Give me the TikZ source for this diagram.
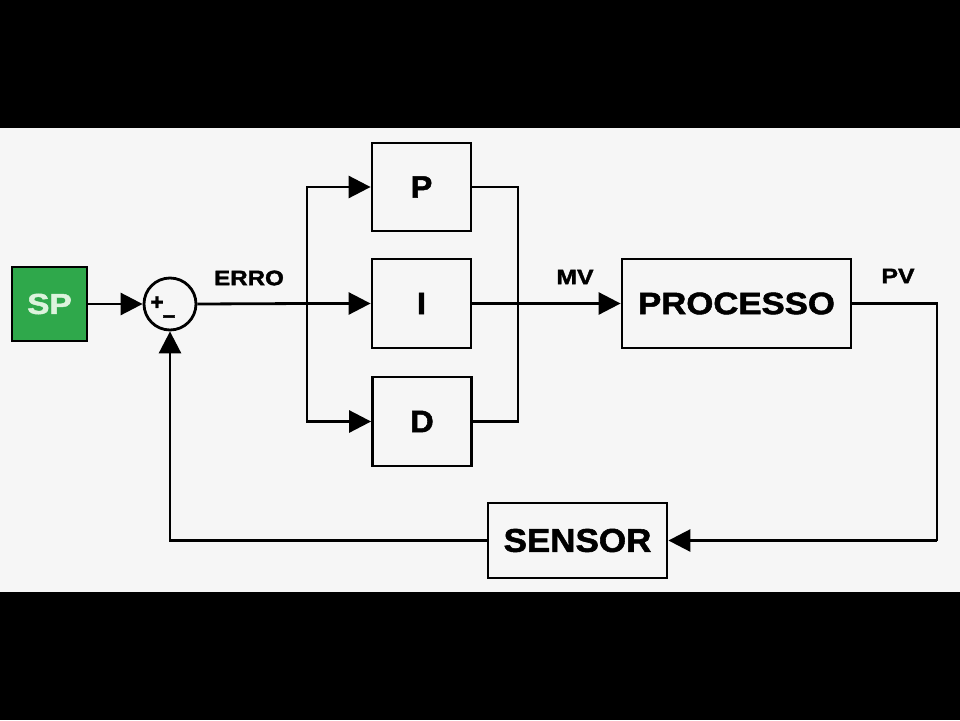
\documentclass[tikz,border=0pt]{standalone}
\usepackage{fontspec}
\usepackage{graphicx}
\setmainfont{Liberation Sans}[BoldFeatures={FakeBold=1.6}]
\usetikzlibrary{arrows.meta}
\definecolor{bg}{HTML}{F6F6F6}
\definecolor{spgreen}{HTML}{2FA84B}
\definecolor{sptext}{HTML}{DDF3DD}
\tikzset{
  blk/.style={draw=black, line width=2.8pt, fill=bg, minimum width=#1, inner sep=0pt},
  wire/.style={line width=2.8pt},
  arr/.style={wire, -{Triangle[length=22pt,width=22pt]}},
  lbl/.style={font=\bfseries\fontsize{21}{21}\selectfont, inner sep=0pt},
  big/.style={font=\bfseries\fontsize{31}{31}\selectfont, inner sep=0pt}
}
\begin{document}
\begin{tikzpicture}[x=1pt,y=-1pt]
\useasboundingbox (0,0) rectangle (960,720);
\fill[black] (0,0) rectangle (960,720);
\fill[bg] (0,128) rectangle (960,592);

% blocks
\node[draw=black, line width=2.8pt, fill=spgreen, minimum width=75pt, minimum height=74pt, inner sep=0pt] (sp) at (49.5,304) {};
\node[big, text=sptext, font=\bfseries\fontsize{29}{29}\selectfont] at (sp.center) {\scalebox{1.15}[1]{SP}};
\node[draw=black, line width=2.8pt, circle, minimum size=52pt, inner sep=0pt, fill=bg] (sum) at (170,304) {};
\node[font=\bfseries\fontsize{23}{23}\selectfont, inner sep=0pt] (plus) at (157,303) {+};
\node[font=\bfseries\fontsize{23}{23}\selectfont, inner sep=0pt] (minus) at (169,319) {–};

\node[blk=99pt, minimum height=88pt] (P) at (421.5,187) {};
\node[big] at (P.center) {\scalebox{1.05}[1]{P}};
\node[blk=99pt, minimum height=89pt] (I) at (421.5,303.5) {};
\node[big] at (I.center) {\scalebox{1.05}[1]{I}};
\node[blk=99pt, minimum height=89pt] (D) at (422,421.5) {};
\node[big] at (D.center) {\scalebox{1.05}[1]{D}};

\node[blk=229pt, minimum height=89pt] (proc) at (736.5,303.5) {};
\node[big] at (proc.center) {\scalebox{1.12}[1]{PROCESSO}};

\node[blk=179pt, minimum height=75pt] (sens) at (577.5,540.5) {};
\node[big, font=\bfseries\fontsize{33}{33}\selectfont] at (sens.center) {\scalebox{1.06}[1]{SENSOR}};

% labels
\node[lbl] (erro) at (249,278) {\scalebox{1.15}[1]{ERRO}};
\node[lbl] (mv) at (575,277) {\scalebox{1.18}[1]{MV}};
\node[lbl] (pv) at (898,276) {\scalebox{1.18}[1]{PV}};

% coordinates
\coordinate (br) at (307,303.5);
\coordinate (jn) at (518,303.5);
\coordinate (pvc) at (937,303.5);
\coordinate (fbr) at (937,540.5);
\coordinate (fbl) at (170,540.5);

% connectors
\draw[arr] (sp.east |- sum.west) -- (sum.west);
\draw[wire] (sum.east) -- (br);
\draw[arr] (br) -- (I.west);
\draw[arr] (br |- P.west) -- (P.west);
\draw[arr] (br |- D.west) -- (D.west);
\draw[wire, line cap=rect] (br |- P.west) -- (br |- D.west);
\draw[wire, line join=miter] (P.east) -- (jn |- P.east) -- (jn |- D.east) -- (D.east);
\draw[wire] (I.east) -- (jn);
\draw[arr] (jn) -- (proc.west);
\draw[wire, line join=miter] (proc.east) -- (pvc) -- (fbr);
\draw[arr] (fbr) -- (sens.east);
\draw[arr, line join=miter] (sens.west) -- (fbl) -- (sum.south);
\end{tikzpicture}
\end{document}
